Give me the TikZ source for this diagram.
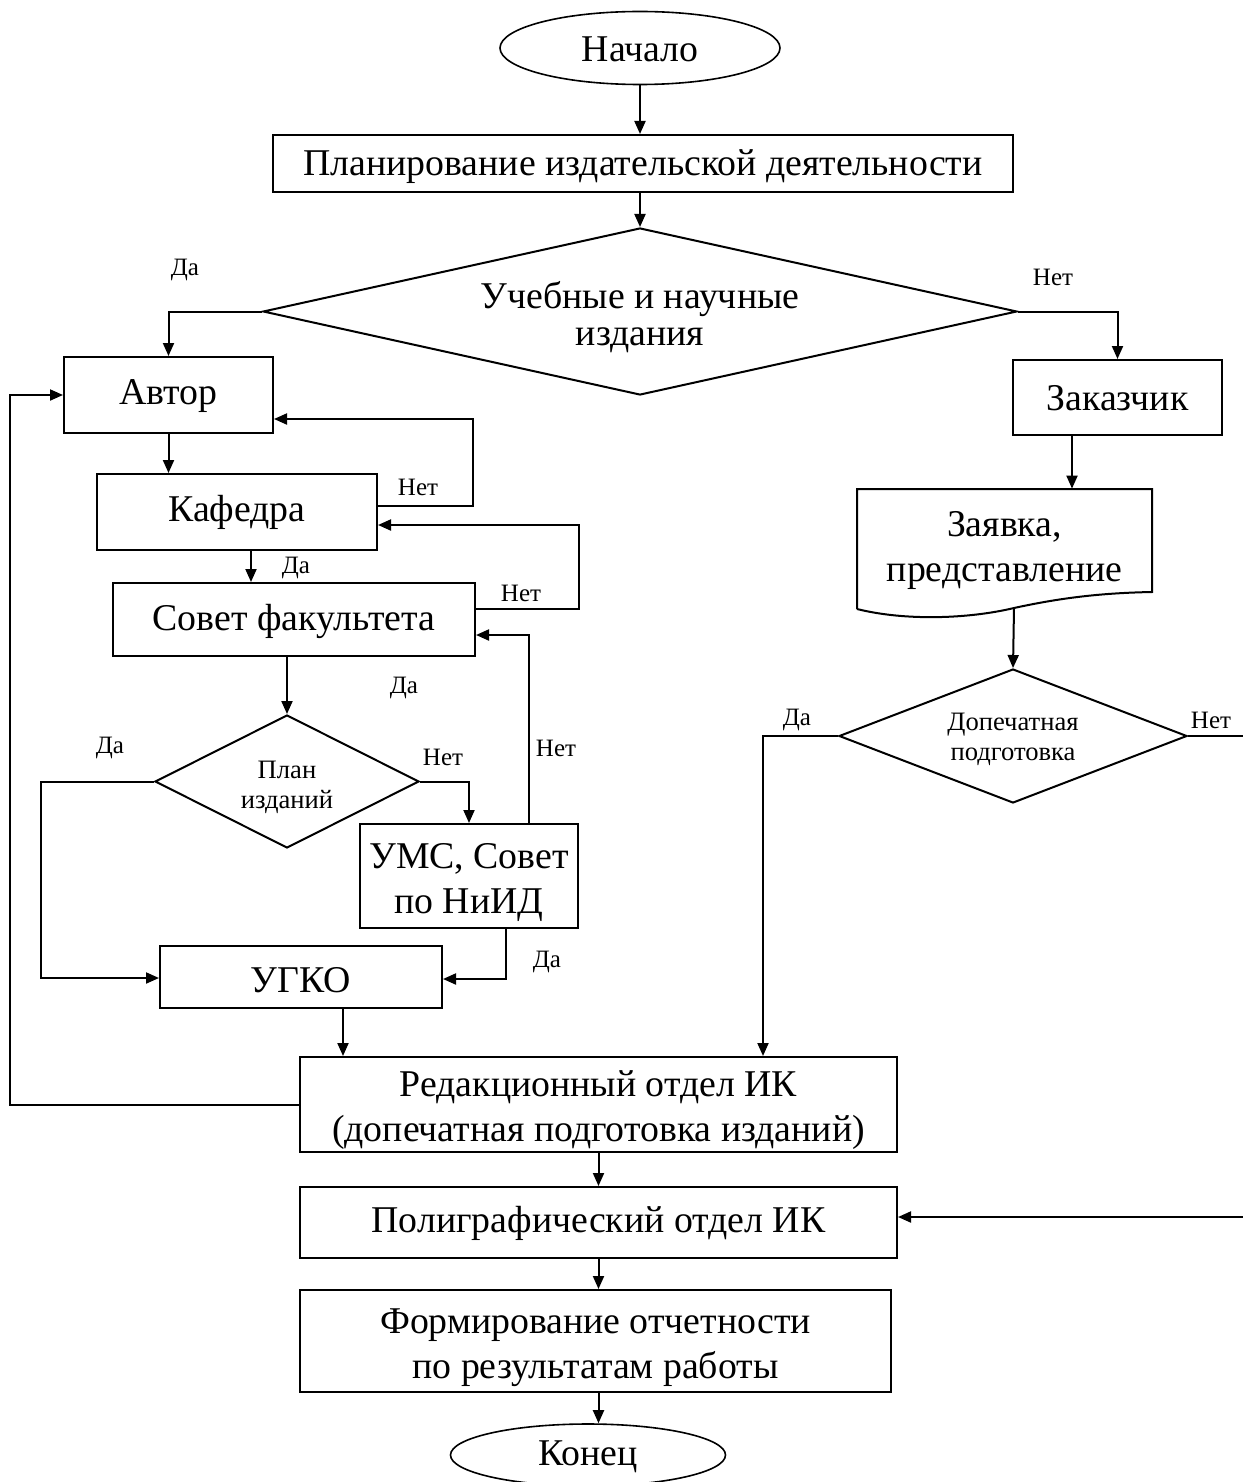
\documentclass[tikz,border=0pt]{standalone}
\usepackage{fontspec}
\setmainfont{Liberation Serif}
\usetikzlibrary{shapes.geometric,arrows.meta,calc}
\begin{document}
\begin{tikzpicture}[x=0.5pt,y=-0.5pt,
  mainf/.style={font=\fontsize{18.9}{22.5}\selectfont},
  tx/.style={mainf, align=center, inner sep=0pt},
  box/.style={draw, line width=1pt, rectangle, inner sep=0pt},
  term/.style={draw, line width=0.8pt, ellipse, inner sep=0pt},
  dec/.style={draw, line width=1pt, diamond, inner sep=0pt},
  smallf/.style={font=\fontsize{13.3}{15}\selectfont, align=center, inner sep=0pt},
  lbl/.style={font=\fontsize{12.5}{14}\selectfont, inner sep=0pt},
  arr/.style={line width=1pt, -{Triangle[length=6.5pt,width=5.5pt]}},
  ln/.style={line width=1pt}]
\useasboundingbox (0,0) rectangle (1242,1482);

% nodes
\node[term, minimum width=140pt, minimum height=36.5pt, label={[tx, yshift=-0.5pt]center:Начало}] (start) at (640,48) {};
\node[box, minimum width=370pt, minimum height=28.5pt, label={[tx, yshift=-1.5pt]center:Планирование издательской деятельности}] (plan) at (643,163.5) {};
\node[dec, minimum width=377pt, minimum height=83.5pt, aspect=4.5, label={[tx, font=\fontsize{18.9}{18.5}\selectfont, yshift=-3pt]center:{Учебные и научные\\издания}}] (d1) at (640,311.5) {};
\node[box, minimum width=104.5pt, minimum height=38pt, label={[tx, yshift=-0.5pt]center:Автор}] (avtor) at (168.5,395) {};
\node[box, minimum width=104.5pt, minimum height=37.5pt, label={[tx, yshift=-0.5pt]center:Заказчик}] (zak) at (1117.5,397.5) {};
\node[box, minimum width=140pt, minimum height=38pt, label={[tx]center:Кафедра}] (kaf) at (237,512) {};
\node[box, minimum width=181pt, minimum height=36.5pt, label={[tx, yshift=-1pt]center:Совет факультета}] (sovet) at (294,619.5) {};
\node[dec, minimum width=132pt, minimum height=66.5pt, aspect=2, label={[smallf, yshift=-3pt]center:{План\\изданий}}] (pd) at (287,781.5) {};
\node[box, minimum width=109pt, minimum height=52pt, label={[tx, yshift=-3pt]center:{УМС, Совет\\по НиИД}}] (ums) at (469,876) {};
\node[box, minimum width=141pt, minimum height=31pt, label={[tx, yshift=-1.5pt]center:УГКО}] (ugko) at (301,977) {};
\node[box, minimum width=298.5pt, minimum height=47.5pt, label={[tx, yshift=-2.75pt]center:{Редакционный отдел ИК\\(допечатная подготовка изданий)}}] (red) at (598.5,1104.5) {};
\node[box, minimum width=298.5pt, minimum height=35.5pt, label={[tx, yshift=-0.5pt]center:Полиграфический отдел ИК}] (poli) at (598.5,1222.5) {};
\node[box, minimum width=295.5pt, minimum height=51pt, label={[tx, yshift=-3.25pt]center:{Формирование отчетности\\по результатам работы}}] (form) at (595.5,1341) {};
\node[term, minimum width=137.5pt, minimum height=31pt, label={[tx, yshift=-1pt]center:Конец}] (end) at (588,1455) {};
\node[inner sep=0pt, minimum width=147.5pt, minimum height=56pt, label={[tx, yshift=-2.5pt]center:{Заявка,\\представление}}] (zay) at (1004.5,545) {};
\draw[ln] (857,609) -- (857,489) -- (1152,489) -- (1152,592)
  .. controls (1100,593) and (1060,598) .. (1014,608)
  .. controls (968,619) and (905,621) .. (857,609);
\coordinate (zayb) at (1014,608);
\node[dec, minimum width=174pt, minimum height=67pt, aspect=2.6, label={[smallf, yshift=-1.5pt]center:{Допечатная\\подготовка}}] (dop) at (1013,736) {};

% labels
\node[lbl] (l1) at (185,270) {Да};
\node[lbl] (l2) at (1053,277) {Нет};
\node[lbl] (l3) at (418,487) {Нет};
\node[lbl] (l4) at (296,568) {Да};
\node[lbl] (l5) at (521,593) {Нет};
\node[lbl] (l6) at (404,688) {Да};
\node[lbl] (l7) at (110,748) {Да};
\node[lbl] (l8) at (443,757) {Нет};
\node[lbl] (l9) at (556,748) {Нет};
\node[lbl] (l10) at (547,962) {Да};
\node[lbl] (l11) at (797,720) {Да};
\node[lbl] (l12) at (1211,720) {Нет};

% coordinates
\coordinate (k1) at (473,419);
\coordinate (xk) at (251,0);
\coordinate (s1) at (579,525);
\coordinate (u1) at (529,635);
\coordinate (p1) at (41,978);
\coordinate (u2) at (506,979);
\coordinate (xg) at (343,0);
\coordinate (r2) at (10,395);
\coordinate (xz) at (1072,0);
\coordinate (dl) at (763,736);
\coordinate (dr) at (1252,736);

% connectors
\draw[arr] (start.south) -- (start.south |- plan.north);
\draw[arr] (plan.south -| d1.north) -- (d1.north);
\draw[arr] (d1.west) -| (avtor.north);
\draw[arr] (d1.east) -| (zak.north);
\draw[arr] (avtor.south) -- (kaf.north -| avtor.south);
\draw[arr] ([yshift=3pt]kaf.east) -| (k1) -- (k1 -| avtor.east);
\draw[arr] (kaf.south -| xk) -- (sovet.north -| xk);
\draw[arr] ([yshift=5.25pt]sovet.east) -| (s1) -- (s1 -| kaf.east);
\draw[arr] (ums.north -| u1) -- (u1) -- (u1 -| sovet.east);
\draw[arr] (sovet.south -| pd.north) -- (pd.north);
\draw[arr] (pd.west) -| (p1) -- (p1 -| ugko.west);
\draw[arr] (pd.east) -| (ums.north);
\draw[arr] (ums.south -| u2) -- (u2) -- (u2 -| ugko.east);
\draw[arr] (ugko.south -| xg) -- (red.north -| xg);
\draw[arr] (red.west) -| (r2) -- (avtor.west);
\draw[arr] (red.south) -- (poli.north);
\draw[arr] (poli.south) -- (poli.south |- form.north);
\draw[arr] (poli.south |- form.south) -- (poli.south |- end.north);
\draw[arr] (zak.south -| xz) -- (zay.north -| xz);
\draw[arr] (zayb) -- (dop.north);
\draw[arr] (dop.west) -- (dl) -- (dl |- red.north);
\draw[arr] (dop.east) -- (dr) |- ([yshift=2.75pt]poli.east);
\end{tikzpicture}
\end{document}
